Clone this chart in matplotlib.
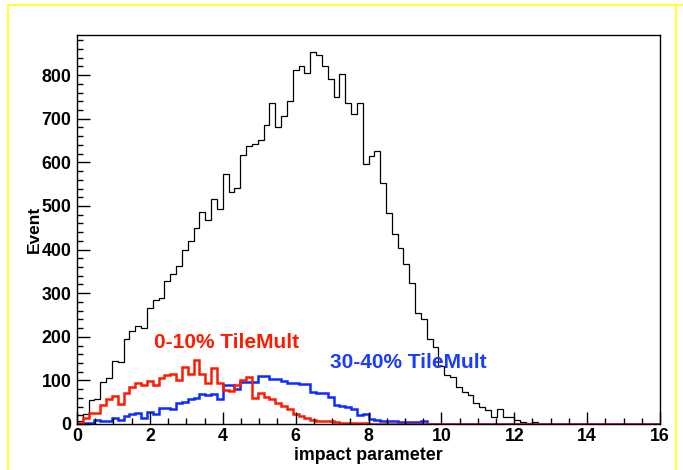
import numpy as np
import matplotlib
matplotlib.use("Agg")
import matplotlib.pyplot as plt
from matplotlib.ticker import MultipleLocator
from matplotlib.lines import Line2D

# histogram binning: 100 bins over the impact parameter range 0-16
edges = np.linspace(0, 16, 101)

# all events (black)
black = [8, 22, 55, 58, 96, 106, 144, 142, 195, 213,
         225, 221, 266, 285, 289, 327, 344, 363, 398, 420,
         450, 487, 468, 515, 492, 573, 533, 542, 617, 638,
         642, 651, 686, 735, 680, 706, 741, 812, 821, 806,
         854, 846, 821, 790, 749, 803, 737, 711, 737, 597,
         615, 627, 552, 484, 436, 403, 366, 324, 254, 240,
         194, 176, 134, 113, 108, 85, 73, 66, 48, 40,
         31, 17, 35, 16, 15, 10, 5, 3, 4, 1]

# 0-10% TileMult (red)
red = [2, 13, 26, 26, 44, 57, 64, 46, 72, 84,
       95, 89, 99, 89, 105, 112, 115, 102, 131, 115,
       147, 115, 93, 128, 95, 78, 76, 89, 100, 107,
       59, 70, 63, 57, 49, 41, 34, 24, 18, 13,
       9, 7, 6, 6, 4, 3, 3, 3, 2, 2,
       1, 1, 1]

# 30-40% TileMult (blue)
blue = [0, 3, 3, 9, 8, 6, 13, 9, 18, 23,
        26, 13, 28, 23, 36, 36, 34, 49, 51, 57,
        59, 69, 67, 69, 57, 89, 89, 80, 97, 97,
        97, 110, 110, 104, 104, 99, 93, 93, 92, 92,
        74, 72, 72, 63, 44, 42, 38, 34, 21, 24,
        11, 9, 8, 8, 8, 5, 5, 5, 5, 7]


def pad(vals):
    v = np.zeros(len(edges) - 1)
    v[:len(vals)] = vals
    return v


plt.rcParams["font.family"] = ["Liberation Sans", "DejaVu Sans"]
plt.rcParams["font.weight"] = "bold"

fig = plt.figure(figsize=(6.83, 4.70), dpi=100)
ax = fig.add_axes([77 / 683, 1 - 424 / 470, (660 - 77) / 683, (424 - 35) / 470])

ax.stairs(pad(black), edges, color="black", lw=0.9)
ax.stairs(pad(blue), edges, color="#0a2dff", lw=1.8)
ax.stairs(pad(red), edges, color="#ff1a00", lw=1.8)

ax.set_xlim(0, 16)
ax.set_ylim(0, 892)
ax.xaxis.set_major_locator(MultipleLocator(2))
ax.xaxis.set_minor_locator(MultipleLocator(0.5))
ax.yaxis.set_major_locator(MultipleLocator(100))
ax.yaxis.set_minor_locator(MultipleLocator(20))
ax.tick_params(which="both", direction="in", top=False, right=False,
               labelsize=12.8)
ax.tick_params(which="major", length=9, width=1)
ax.tick_params(which="minor", length=4.5, width=1)
ax.tick_params(axis="y", pad=4)
ax.tick_params(axis="x", pad=3)
for lab in ax.get_xticklabels() + ax.get_yticklabels():
    lab.set_fontweight("bold")
for sp in ax.spines.values():
    sp.set_linewidth(1)

ax.set_xlabel("impact parameter", fontsize=12.8, fontweight="bold", labelpad=1)
ax.set_ylabel("Event", fontsize=12.5, fontweight="bold", labelpad=0)

ax.text(2.1, 186, "0-10% TileMult", color="#ff1a00", fontsize=15,
        fontweight="bold", va="center", ha="left")
ax.text(6.94, 142, "30-40% TileMult", color="#1a3cff", fontsize=15,
        fontweight="bold", va="center", ha="left")

# yellow slide frame (top, left, right edges)
frame_x = [8 / 683, 8 / 683, 676 / 683, 676 / 683]
frame_y = [0, 1 - 5 / 470, 1 - 5 / 470, 0]
fig.add_artist(Line2D(frame_x, frame_y, transform=fig.transFigure,
                      color="#ffff33", lw=1.5))
fig.add_artist(Line2D([676 / 683, 1], [1 - 5 / 470, 1 - 5 / 470],
                      transform=fig.transFigure, color="#ffff33", lw=1.5))

fig.savefig("out.png", dpi=100)
